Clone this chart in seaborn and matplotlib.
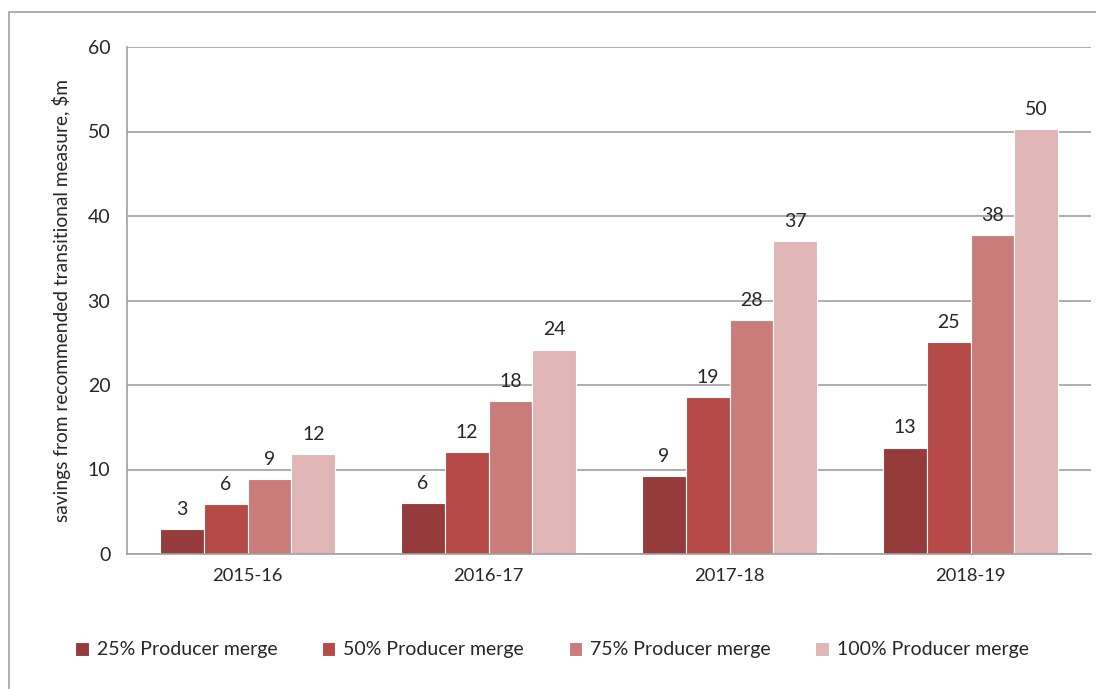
import pandas as pd
import matplotlib.pyplot as plt
import seaborn as sns
from matplotlib.patches import Rectangle
from matplotlib.ticker import FixedLocator

years = ["2015-16", "2016-17", "2017-18", "2018-19"]
series = ["25% Producer merge", "50% Producer merge", "75% Producer merge", "100% Producer merge"]
values = {
    "25% Producer merge": [3.0, 6.0, 9.2, 12.6],
    "50% Producer merge": [5.9, 12.1, 18.6, 25.1],
    "75% Producer merge": [8.9, 18.1, 27.7, 37.7],
    "100% Producer merge": [11.8, 24.2, 37.0, 50.3],
}
colors = ["#953b3b", "#b54a47", "#ca7c7b", "#dfb5b5"]


def build_frame():
    rows = []
    for s in series:
        for y, v in zip(years, values[s]):
            rows.append({"Year": y, "Series": s, "Value": v})
    return pd.DataFrame(rows)


def plot_savings(df):
    sns.set_style("white")
    plt.rcParams["font.family"] = ["Lato", "DejaVu Sans"]
    grey = "#a0a0a0"

    fig = plt.figure(figsize=(10.96, 6.89), dpi=100)
    ax = fig.add_axes([127 / 1096, 135 / 689, (1091 - 127) / 1096, (554 - 47) / 689])

    sns.barplot(data=df, x="Year", y="Value", hue="Series", order=years, hue_order=series,
                palette=colors, width=0.73, saturation=1, edgecolor="white", linewidth=0.8, ax=ax)

    for cont in ax.containers:
        ax.bar_label(cont, labels=[f"{b.get_height():.0f}" for b in cont], padding=8, fontsize=14)

    ax.set_ylim(0, 60)
    ax.set_xlim(-0.5, 3.5)
    ax.set_yticks(range(0, 61, 10))
    ax.yaxis.grid(True, color=grey, linewidth=1.2)
    ax.set_axisbelow(True)
    for side in ["top", "right"]:
        ax.spines[side].set_visible(False)
    for side in ["left", "bottom"]:
        ax.spines[side].set_color(grey)
        ax.spines[side].set_linewidth(1.2)

    ax.tick_params(axis="y", which="major", length=6, color=grey, width=1.2, labelsize=14, pad=6)
    ax.tick_params(axis="x", which="major", length=0, labelsize=13.2, pad=10)
    ax.xaxis.set_minor_locator(FixedLocator([-0.5, 0.5, 1.5, 2.5, 3.5]))
    ax.tick_params(axis="x", which="minor", length=6, color=grey, width=1.2)

    ax.set_xlabel("")
    ax.set_ylabel("savings from recommended transitional measure, $m", fontsize=13.8, labelpad=12)

    handles, labels = ax.get_legend_handles_labels()
    ax.legend(handles, labels, loc="center", bbox_to_anchor=(552 / 1096, (689 - 650) / 689),
              bbox_transform=fig.transFigure, ncol=4, frameon=False, fontsize=14,
              handlelength=0.7, handleheight=0.7, handletextpad=0.4, columnspacing=2.3)

    fig.patches.append(Rectangle((9 / 1096, -0.01), 1.0, 1 - 12 / 689 + 0.01,
                                 transform=fig.transFigure, fill=False,
                                 edgecolor=grey, linewidth=1.2))

    fig.savefig("out.png", dpi=100)


def main():
    df = build_frame()
    plot_savings(df)


if __name__ == "__main__":
    main()
